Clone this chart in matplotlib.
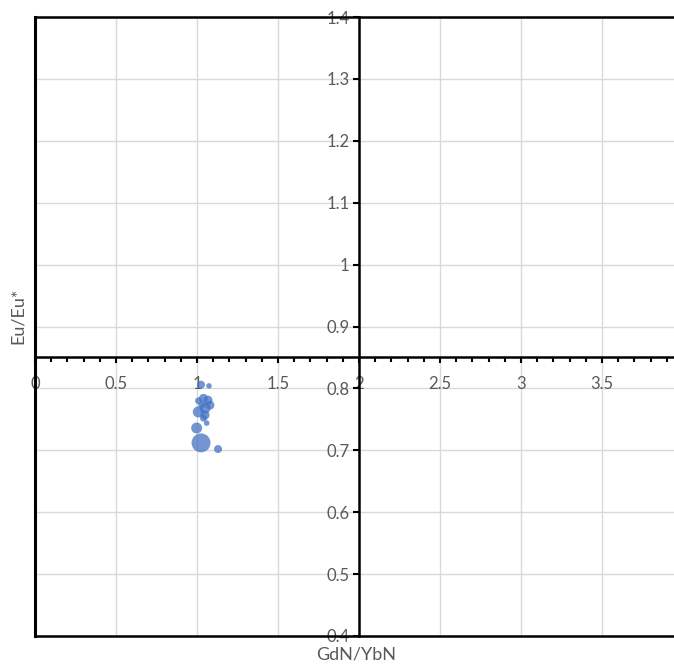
import matplotlib
matplotlib.use("Agg")
import matplotlib.pyplot as plt
from matplotlib.ticker import MultipleLocator

# Данные
gd_yb = [1.025, 1.074, 1.04, 1.01, 1.068, 1.08, 1.05, 1.008, 1.05, 1.04,
         1.06, 0.998, 1.025, 1.13, 1.03]
eu_eu = [0.806, 0.804, 0.784, 0.780, 0.781, 0.773, 0.768, 0.762, 0.757, 0.752,
         0.744, 0.736, 0.712, 0.702, 0.773]
bubble = [4, 2.8, 4.5, 3.5, 4.5, 4.5, 5.5, 5.5, 4.5, 3.5, 2.8, 5.5, 9.5, 4, 3.5]   # радиус, px

x_ticks = [0, 0.5, 1, 1.5, 2, 2.5, 3, 3.5]
x_labels = ["0", "0.5", "1", "1.5", "2", "2.5", "3", "3.5"]
y_ticks = [0.4, 0.5, 0.6, 0.7, 0.8, 0.9, 1.0, 1.1, 1.2, 1.3, 1.4]
y_labels = ["0.4", "0.5", "0.6", "0.7", "0.8", "0.9", "1", "1.1", "1.2", "1.3", "1.4"]

TXT = "#595959"
GRID = "#D9D9D9"

plt.rcParams['font.family'] = ['Lato', 'DejaVu Sans']

fig = plt.figure(figsize=(6.74, 6.68), dpi=100)
W, H = 674, 668
ax = fig.add_axes([35 / W, (H - 636) / H, (674 - 35) / W, (636 - 17) / H])

# размер в points^2 из радиуса в пикселях
sizes = [(2 * r * 72 / 100) ** 2 for r in bubble]
ax.scatter(gd_yb, eu_eu, s=sizes, color="#4472C4", alpha=0.75,
           edgecolors="none", zorder=3)

ax.set_xlim(0, 3.945)
ax.set_ylim(0.4, 1.4)

# оси пересекаются в (2, 0.85)
ax.spines["left"].set_position(("data", 2))
ax.spines["bottom"].set_position(("data", 0.85))
ax.spines["right"].set_visible(False)
for s in ["left", "bottom", "top"]:
    ax.spines[s].set_color("black")
    ax.spines[s].set_linewidth(1.8)
ax.spines["top"].set_zorder(4)

# рамка слева и снизу
ax.axvline(0, color="black", lw=2.2, clip_on=False, zorder=4)
ax.axhline(0.4, color="black", lw=1.8, clip_on=False, zorder=4)

ax.set_xticks(x_ticks)
ax.set_xticklabels(x_labels)
ax.set_yticks(y_ticks)
ax.set_yticklabels(y_labels)
ax.xaxis.set_minor_locator(MultipleLocator(0.1))

ax.tick_params(axis="x", which="major", direction="out", length=4, width=1.5,
               pad=9, labelsize=12, labelcolor=TXT, color="black")
ax.tick_params(axis="x", which="minor", direction="out", length=3.5, width=1.5,
               color="black")
ax.tick_params(axis="y", which="major", direction="out", length=4, width=1.5,
               pad=3, labelsize=12, labelcolor=TXT, color="black")

# сетка
for xv in x_ticks[1:]:
    ax.axvline(xv, color=GRID, lw=1, zorder=0)
for yv in y_ticks[1:-1]:
    ax.axhline(yv, color=GRID, lw=1, zorder=0)

fig.text(18 / W, 1 - 316 / H, "Eu/Eu*", rotation=90, color=TXT, fontsize=13,
         ha="center", va="center")
fig.text(356 / W, 1 - 655 / H, "GdN/YbN", color=TXT, fontsize=13,
         ha="center", va="center")

fig.savefig("out.png", dpi=100)
